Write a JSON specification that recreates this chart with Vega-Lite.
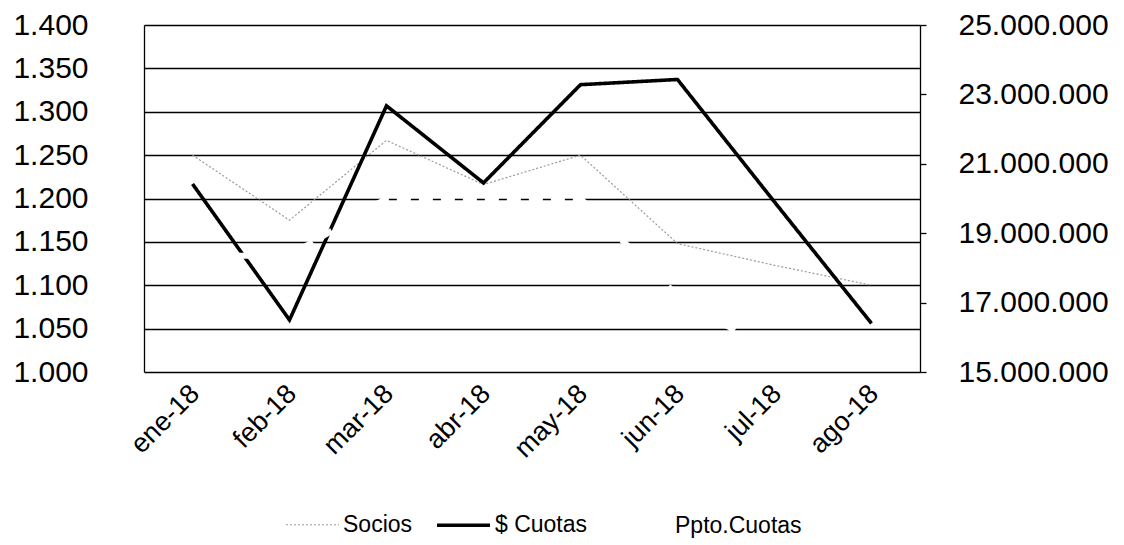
{
  "$schema": "https://vega.github.io/schema/vega-lite/v6.json",
  "autosize": "none",
  "width": 776,
  "height": 347,
  "padding": {"left": 144, "top": 25, "right": 204, "bottom": 173},
  "background": "white",
  "config": {
    "font": "Liberation Sans",
    "view": {"stroke": null},
    "locale": {"number": {"decimal": ",", "thousands": ".", "grouping": [3], "currency": ["$", ""]}}
  },
  "data": {
    "values": [
      {"mes": "ene-18", "serie": "Socios", "valor": 1250},
      {"mes": "feb-18", "serie": "Socios", "valor": 1175},
      {"mes": "mar-18", "serie": "Socios", "valor": 1267},
      {"mes": "abr-18", "serie": "Socios", "valor": 1216},
      {"mes": "may-18", "serie": "Socios", "valor": 1250},
      {"mes": "jun-18", "serie": "Socios", "valor": 1148},
      {"mes": "jul-18", "serie": "Socios", "valor": 1123},
      {"mes": "ago-18", "serie": "Socios", "valor": 1100},
      {"mes": "ene-18", "serie": "$ Cuotas", "valor": 20420000},
      {"mes": "feb-18", "serie": "$ Cuotas", "valor": 16500000},
      {"mes": "mar-18", "serie": "$ Cuotas", "valor": 22670000},
      {"mes": "abr-18", "serie": "$ Cuotas", "valor": 20450000},
      {"mes": "may-18", "serie": "$ Cuotas", "valor": 23280000},
      {"mes": "jun-18", "serie": "$ Cuotas", "valor": 23430000},
      {"mes": "jul-18", "serie": "$ Cuotas", "valor": 19900000},
      {"mes": "ago-18", "serie": "$ Cuotas", "valor": 16400000},
      {"mes": "ene-18", "serie": "Ppto.Cuotas", "valor": 18350000},
      {"mes": "feb-18", "serie": "Ppto.Cuotas", "valor": 18350000},
      {"mes": "mar-18", "serie": "Ppto.Cuotas", "valor": 20000000},
      {"mes": "abr-18", "serie": "Ppto.Cuotas", "valor": 20000000},
      {"mes": "may-18", "serie": "Ppto.Cuotas", "valor": 20000000},
      {"mes": "jun-18", "serie": "Ppto.Cuotas", "valor": 17200000},
      {"mes": "jul-18", "serie": "Ppto.Cuotas", "valor": 15500000},
      {"mes": "ago-18", "serie": "Ppto.Cuotas", "valor": 15500000}
    ]
  },
  "encoding": {
    "x": {
      "field": "mes",
      "type": "ordinal",
      "sort": ["ene-18", "feb-18", "mar-18", "abr-18", "may-18", "jun-18", "jul-18", "ago-18"],
      "scale": {"type": "point", "padding": 0.5},
      "axis": {
        "title": null,
        "labelAngle": -45,
        "labelFontSize": 27,
        "labelColor": "#000000",
        "labelPadding": 8,
        "labelOffset": -7,
        "ticks": false,
        "domain": false,
        "grid": false
      }
    },
    "color": {
      "field": "serie",
      "type": "nominal",
      "scale": {"domain": ["Socios", "$ Cuotas", "Ppto.Cuotas"], "range": ["#9a9a9a", "#000000", "#ffffff"]},
      "legend": {
        "title": null,
        "orient": "none",
        "legendX": 141,
        "legendY": 471,
        "direction": "horizontal",
        "labelFontSize": 23,
        "labelColor": "#000000",
        "labelOffset": 3,
        "columnPadding": 16,
        "symbolType": "stroke",
        "symbolSize": 2809
      }
    },
    "strokeWidth": {
      "field": "serie",
      "type": "nominal",
      "scale": {"domain": ["Socios", "$ Cuotas", "Ppto.Cuotas"], "range": [1.2, 6, 4]},
      "legend": {
        "title": null,
        "orient": "none",
        "legendX": 141,
        "legendY": 471,
        "direction": "horizontal",
        "labelFontSize": 23,
        "labelOffset": 3,
        "columnPadding": 16,
        "symbolType": "stroke",
        "symbolSize": 2809
      }
    },
    "strokeDash": {
      "field": "serie",
      "type": "nominal",
      "scale": {"domain": ["Socios", "$ Cuotas", "Ppto.Cuotas"], "range": [[2, 2], [1, 0], [14, 8]]},
      "legend": {
        "title": null,
        "orient": "none",
        "legendX": 141,
        "legendY": 471,
        "direction": "horizontal",
        "labelFontSize": 23,
        "labelOffset": 3,
        "columnPadding": 16,
        "symbolType": "stroke",
        "symbolSize": 2809
      }
    }
  },
  "layer": [
    {
      "transform": [{"filter": "datum.serie == 'Socios'"}],
      "mark": {"type": "line", "strokeCap": "butt"},
      "encoding": {
        "y": {
          "field": "valor",
          "type": "quantitative",
          "scale": {"domain": [1000, 1400], "nice": false, "zero": false},
          "axis": {
            "title": null,
            "orient": "left",
            "values": [1000, 1050, 1100, 1150, 1200, 1250, 1300, 1350, 1400],
            "format": ",.0f",
            "labelFontSize": 30,
            "labelColor": "#000000",
            "labelPadding": 56,
            "ticks": false,
            "tickSize": 0,
            "domain": true,
            "domainColor": "#000000",
            "domainWidth": 1.3,
            "grid": true,
            "gridColor": "#000000",
            "gridWidth": 1.5,
            "gridOpacity": 1
          }
        }
      }
    },
    {
      "transform": [{"filter": "datum.serie != 'Socios'"}],
      "mark": {"type": "line", "strokeCap": "butt", "strokeJoin": "miter"},
      "encoding": {
        "y": {
          "field": "valor",
          "type": "quantitative",
          "scale": {"domain": [15000000, 25000000], "nice": false, "zero": false},
          "axis": {
            "title": null,
            "orient": "right",
            "values": [15000000, 17000000, 19000000, 21000000, 23000000, 25000000],
            "format": ",.0f",
            "labelFontSize": 30,
            "labelColor": "#000000",
            "labelPadding": 32,
            "ticks": true,
            "tickSize": 6,
            "tickColor": "#000000",
            "tickWidth": 1.3,
            "domain": true,
            "domainColor": "#000000",
            "domainWidth": 1.3,
            "grid": false
          }
        }
      }
    }
  ],
  "resolve": {"scale": {"y": "independent"}}
}
